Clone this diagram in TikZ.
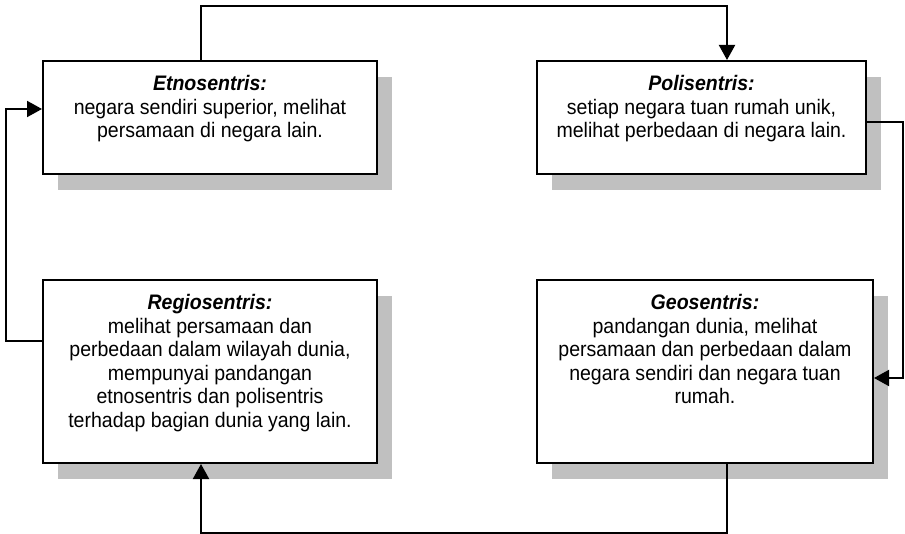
\documentclass[tikz,border=0pt]{standalone}
\usepackage{fontspec}
\setmainfont{Liberation Sans}[FakeStretch=0.93]
\usepackage{tikz}
\usetikzlibrary{positioning}
\usetikzlibrary{shadows}
\usetikzlibrary{arrows.meta}
\definecolor{shadegray}{RGB}{192,192,192}

\begin{document}
\begin{tikzpicture}
  [
    x=1pt, y=-1pt,
    box/.style={
      draw=black,
      line width=2pt,
      fill=white,
      inner sep=0pt,
      drop shadow={shadow xshift=15pt, shadow yshift=-16pt,
                   fill=shadegray, opacity=1}
    },
    txt/.style={
      align=center,
      inner sep=0pt,
      font=\fontsize{21pt}{23.6pt}\selectfont
    },
    link/.style={line width=2pt, -{Triangle[length=15pt,width=16pt]}}
  ]
  \useasboundingbox (0,0) rectangle (905,534);

  \node (etno)  at (210,117.5)   [box, minimum width=334pt, minimum height=113pt] {};
  \node (poli)  at (701.5,117.5) [box, minimum width=329pt, minimum height=113pt] {};
  \node (regio) at (210,371.5)   [box, minimum width=334pt, minimum height=183pt] {};
  \node (geo)   at (705,371.5)   [box, minimum width=336pt, minimum height=183pt] {};

  \node (etnoT) [txt, below=15pt of etno.north]
    {\textbf{\textit{Etnosentris:}}\\ negara sendiri superior, melihat\\
     persamaan di negara lain.};
  \node (poliT) [txt, below=15pt of poli.north]
    {\textbf{\textit{Polisentris:}}\\ setiap negara tuan rumah unik,\\
     melihat perbedaan di negara lain.};
  \node (regioT) [txt, below=15pt of regio.north]
    {\textbf{\textit{Regiosentris:}}\\ melihat persamaan dan\\
     perbedaan dalam wilayah dunia,\\ mempunyai pandangan\\
     etnosentris dan polisentris\\ terhadap bagian dunia yang lain.};
  \node (geoT) [txt, below=15pt of geo.north]
    {\textbf{\textit{Geosentris:}}\\ pandangan dunia, melihat\\
     persamaan dan perbedaan dalam\\ negara sendiri dan negara tuan\\
     rumah.};

  % corners of the connectors
  \coordinate (n1) at (201,6);
  \coordinate (n2) at (727,6);
  \coordinate (e1) at (903,122);
  \coordinate (e2) at (903,378);
  \coordinate (s1) at (727,533);
  \coordinate (s2) at (201,533);
  \coordinate (w1) at (6,341);
  \coordinate (w2) at (6,109);

  \draw [link] (etno.north -| n1) |- (n2) -- (poli.north -| n2);
  \draw [link] (poli.east |- e1) -| (e2) -- (geo.east |- e2);
  \draw [link] (geo.south -| s1) |- (s2) -- (regio.south -| s2);
  \draw [link] (regio.west |- w1) -| (w2) -- (etno.west |- w2);

\end{tikzpicture}
\end{document}
